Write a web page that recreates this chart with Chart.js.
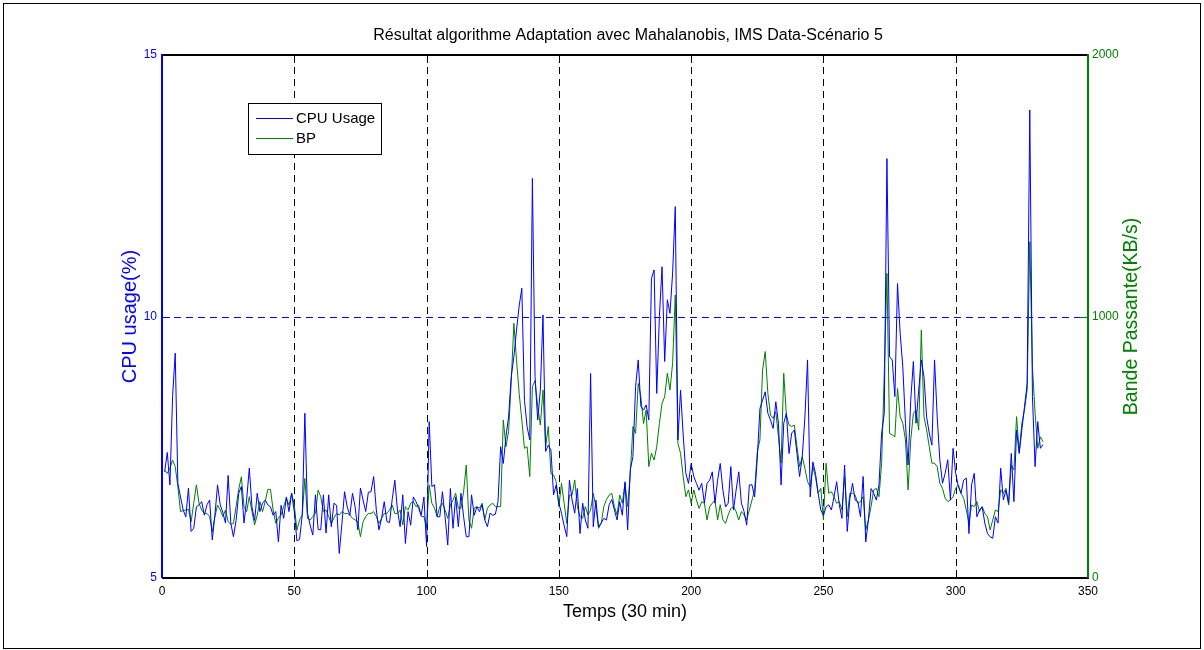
<!DOCTYPE html>
<html><head><meta charset="utf-8">
<script src="https://cdn.jsdelivr.net/npm/chart.js@4.4.0/dist/chart.umd.min.js"></script>
<style>html,body{margin:0;padding:0;background:#fff;}canvas{display:block;}</style>
</head><body>
<canvas id="c" width="1204" height="650"></canvas>
<script>
const chartTitle = "Résultat algorithme Adaptation avec Mahalanobis, IMS Data-Scénario 5";
const xTitle = "Temps (30 min)";
const yLeftTitle = "CPU usage(%)";
const yRightTitle = "Bande Passante(KB/s)";
const seriesNames = ["CPU Usage", "BP"];
const xTicks = [0, 50, 100, 150, 200, 250, 300, 350];
const cpuTicks = [5, 10, 15];
const bpTicks = [0, 1000, 2000];

const cpuUsage = [
7.03,7.40,6.78,8.47,9.30,6.81,6.55,6.30,6.17,6.72,
5.89,5.95,6.36,6.40,6.46,6.20,6.40,6.49,5.73,6.20,
6.78,6.40,6.25,6.05,6.96,6.05,5.79,6.10,6.62,6.75,
6.05,6.50,7.10,6.36,6.10,6.62,6.27,6.43,6.49,6.40,
6.36,6.20,6.27,5.69,6.39,6.14,6.55,6.27,6.62,6.27,
5.71,5.74,6.20,8.15,6.24,6.01,5.82,6.59,5.93,5.92,
6.59,5.86,6.59,5.98,6.43,6.39,5.47,6.04,6.65,6.36,
6.20,6.62,6.36,5.92,6.72,6.49,6.27,6.64,6.65,6.94,
6.30,5.92,6.14,6.46,6.08,6.06,6.50,6.87,6.30,5.98,
6.59,5.66,6.27,6.01,6.55,6.46,6.33,6.20,6.55,5.60,
7.99,6.75,6.78,6.17,6.17,6.65,6.17,5.63,6.71,5.95,
6.55,5.98,6.62,6.17,5.79,5.79,6.59,6.20,6.36,6.27,
6.40,6.11,5.98,6.24,6.20,6.22,6.46,7.51,7.19,7.70,
8.08,8.85,9.23,9.74,10.20,10.54,8.40,7.89,7.64,12.64,
8.85,8.02,8.59,10.03,7.42,7.54,7.45,6.59,6.78,6.43,
6.24,6.00,5.79,6.87,6.49,6.24,6.71,5.85,6.43,6.11,
5.95,8.91,5.98,6.49,5.98,6.05,6.14,6.11,6.40,6.50,
6.30,6.11,6.46,6.20,6.84,5.92,7.07,7.32,8.66,9.17,
8.28,8.21,8.31,8.02,10.73,10.89,8.53,10.00,10.95,9.14,
10.32,10.06,10.83,12.10,7.64,8.59,7.73,7.00,6.81,7.19,
6.94,6.81,6.68,6.81,6.43,6.81,6.87,7.03,6.43,6.87,
7.19,6.68,6.36,6.43,7.13,6.30,6.68,7.03,6.43,6.27,
6.01,6.78,6.78,6.55,7.29,8.24,8.40,8.56,8.15,8.02,
7.86,8.37,7.96,6.78,7.96,8.15,7.38,7.77,7.83,7.38,
6.94,7.32,8.08,9.17,6.55,7.22,7.00,6.62,6.30,6.20,
6.36,6.40,6.30,6.55,6.84,6.40,6.14,7.16,5.89,6.52,
6.81,6.49,6.46,6.17,6.94,5.69,6.11,6.71,6.62,6.49,
6.78,7.77,8.15,13.02,9.23,9.17,8.47,10.63,9.68,9.04,
7.96,7.16,8.40,9.14,7.96,8.59,9.17,8.85,8.08,7.77,
7.54,9.17,8.08,7.26,6.81,7.00,7.26,6.49,7.48,7.00,
6.75,6.62,6.87,6.91,5.85,6.78,7.00,6.17,6.30,6.36,
6.05,5.85,5.79,5.76,6.17,6.05,7.10,6.49,6.68,6.43,
7.38,6.46,7.83,7.38,7.83,8.28,8.72,13.95,8.47,7.13,
7.99,7.48,7.55];

const bandePassante = [
413,400,420,451,426,349,254,258,260,263,
215,286,356,286,260,247,247,235,177,235,
279,260,235,260,215,205,209,273,340,387,
273,254,311,254,203,241,292,254,292,339,
339,260,209,230,241,273,305,279,324,279,
183,222,241,381,228,222,235,247,336,311,
254,260,235,209,230,247,241,254,247,247,
241,228,222,215,158,215,235,247,247,254,
235,209,228,247,247,260,279,247,247,260,
203,273,260,286,292,273,279,235,235,190,
356,286,267,235,273,286,260,228,279,298,
324,267,267,330,432,222,190,267,273,267,
286,222,267,279,286,273,273,273,604,502,
560,750,974,834,706,604,496,502,388,732,
755,655,585,719,502,579,400,394,368,273,
362,286,209,317,317,375,273,235,228,273,
241,260,324,273,190,209,273,300,317,324,
273,241,317,286,362,273,400,579,553,744,
693,591,642,426,477,451,502,591,668,693,
783,719,821,1082,515,477,387,311,337,286,
337,298,266,292,286,222,273,286,298,222,
280,222,209,241,266,273,254,222,254,241,
222,260,298,337,483,528,795,866,706,623,
611,636,540,439,783,623,585,579,585,502,
426,464,419,368,349,426,387,324,343,222,
439,324,330,311,286,292,260,387,235,324,
324,317,286,292,311,184,222,273,337,343,
311,439,783,1165,553,547,540,725,617,592,
528,337,528,630,642,566,948,617,566,502,
439,439,426,362,343,305,292,298,311,343,
356,324,305,260,209,279,273,292,254,273,
247,235,184,222,260,254,337,324,343,279,
432,413,617,483,592,642,719,1286,808,630,
496,540,521];

const temps = cpuUsage.map((_, i) => i + 1);

const BLUE = '#0000ff', GREEN = '#008000', FONT = '"Liberation Sans", Arial, sans-serif';

const matlabFrame = {
  id: 'matlabFrame',
  beforeDraw(chart) {
    const ctx = chart.ctx;
    ctx.save();
    ctx.fillStyle = '#fff';
    ctx.fillRect(0, 0, chart.width, chart.height);
    ctx.strokeStyle = '#000';
    ctx.lineWidth = 1;
    ctx.strokeRect(3.5, 3.5, chart.width - 7, chart.height - 5);
    ctx.restore();
  },
  beforeDatasetsDraw(chart) {
    const {ctx, chartArea: a, scales: {x, y}} = chart;
    ctx.save();
    ctx.lineWidth = 1;
    ctx.setLineDash([7, 5]);
    ctx.strokeStyle = '#000';
    xTicks.forEach(v => {
      if (v <= x.min || v >= x.max) return;
      const px = Math.round(x.getPixelForValue(v)) + 0.5;
      ctx.beginPath(); ctx.moveTo(px, a.top); ctx.lineTo(px, a.bottom); ctx.stroke();
    });
    ctx.strokeStyle = BLUE;
    cpuTicks.forEach(v => {
      if (v <= y.min || v >= y.max) return;
      const py = Math.round(y.getPixelForValue(v)) + 0.5;
      ctx.beginPath(); ctx.moveTo(a.left, py); ctx.lineTo(a.right, py); ctx.stroke();
    });
    ctx.restore();
  },
  afterDatasetsDraw(chart) {
    const {ctx, chartArea: a, scales: {x, y, y1}} = chart;
    ctx.save();
    ctx.setLineDash([]);
    ctx.lineWidth = 2;
    const L = Math.round(a.left), R = Math.round(a.right), T = Math.round(a.top), B = Math.round(a.bottom);
    ctx.strokeStyle = '#000';
    ctx.beginPath(); ctx.moveTo(L, T); ctx.lineTo(R, T); ctx.stroke();
    ctx.beginPath(); ctx.moveTo(L, B); ctx.lineTo(R + 1, B); ctx.stroke();
    ctx.strokeStyle = BLUE;
    ctx.beginPath(); ctx.moveTo(L, T - 1); ctx.lineTo(L, B); ctx.stroke();
    ctx.strokeStyle = GREEN;
    ctx.beginPath(); ctx.moveTo(R, T - 1); ctx.lineTo(R, B); ctx.stroke();
    ctx.lineWidth = 1;
    ctx.strokeStyle = '#000';
    const tl = 8;
    xTicks.forEach(v => {
      if (v <= x.min || v >= x.max) return;
      const px = Math.round(x.getPixelForValue(v)) + 0.5;
      ctx.beginPath(); ctx.moveTo(px, B); ctx.lineTo(px, B - tl); ctx.stroke();
      ctx.beginPath(); ctx.moveTo(px, T); ctx.lineTo(px, T + tl); ctx.stroke();
    });
    ctx.strokeStyle = BLUE;
    cpuTicks.forEach(v => {
      if (v <= y.min || v >= y.max) return;
      const py = Math.round(y.getPixelForValue(v)) + 0.5;
      ctx.beginPath(); ctx.moveTo(L, py); ctx.lineTo(L + tl, py); ctx.stroke();
    });
    ctx.strokeStyle = GREEN;
    bpTicks.forEach(v => {
      if (v <= y1.min || v >= y1.max) return;
      const py = Math.round(y1.getPixelForValue(v)) + 0.5;
      ctx.beginPath(); ctx.moveTo(R, py); ctx.lineTo(R - tl, py); ctx.stroke();
    });
    const lx = L + 86, ly = T + 48, lw = 133, lh = 51;
    ctx.fillStyle = '#fff';
    ctx.fillRect(lx, ly, lw, lh);
    ctx.strokeStyle = '#000';
    ctx.lineWidth = 1;
    ctx.strokeRect(lx + 0.5, ly + 0.5, lw, lh);
    ctx.font = '15px ' + FONT;
    ctx.textBaseline = 'middle';
    ctx.textAlign = 'left';
    const colors = [BLUE, GREEN];
    seriesNames.forEach((n, i) => {
      const ry = ly + 15 + i * 20 + 0.5;
      ctx.strokeStyle = colors[i];
      ctx.beginPath(); ctx.moveTo(lx + 8, ry); ctx.lineTo(lx + 45, ry); ctx.stroke();
      ctx.fillStyle = '#000';
      ctx.fillText(n, lx + 48, ry);
    });
    ctx.restore();
  },
  afterDraw(chart) {
    const {ctx, chartArea: a} = chart;
    const midX = (a.left + a.right) / 2, midY = (a.top + a.bottom) / 2;
    ctx.save();
    ctx.textAlign = 'center';
    ctx.textBaseline = 'middle';
    ctx.fillStyle = '#000';
    ctx.font = '16px ' + FONT;
    ctx.fillText(chartTitle, midX + 3, 36);
    ctx.font = '18px ' + FONT;
    ctx.fillText(xTitle, midX, 612);
    ctx.save();
    ctx.translate(130, midY);
    ctx.rotate(-Math.PI / 2);
    ctx.fillStyle = BLUE;
    ctx.font = '20px ' + FONT;
    ctx.fillText(yLeftTitle, 0, 0);
    ctx.restore();
    ctx.save();
    ctx.translate(1132, midY);
    ctx.rotate(-Math.PI / 2);
    ctx.fillStyle = GREEN;
    ctx.font = '19.5px ' + FONT;
    ctx.fillText(yRightTitle, 0, 0);
    ctx.restore();
    ctx.restore();
  }
};

new Chart(document.getElementById('c'), {
  type: 'line',
  data: {
    datasets: [
      { label: seriesNames[0], data: temps.map((t, i) => ({x: t, y: cpuUsage[i]})), yAxisID: 'y',
        borderColor: BLUE, borderWidth: 1, pointRadius: 0, tension: 0, fill: false },
      { label: seriesNames[1], data: temps.map((t, i) => ({x: t, y: bandePassante[i]})), yAxisID: 'y1',
        borderColor: GREEN, borderWidth: 1, pointRadius: 0, tension: 0, fill: false }
    ]
  },
  options: {
    responsive: false,
    animation: false,
    devicePixelRatio: 1,
    layout: { padding: { top: 55, left: 0, right: 0, bottom: 0 } },
    plugins: { legend: { display: false }, title: { display: false }, tooltip: { enabled: false } },
    scales: {
      x: {
        type: 'linear', min: 0, max: 350,
        afterBuildTicks: s => { s.ticks = xTicks.map(v => ({value: v})); },
        afterFit: s => { s.height = 72; },
        grid: { display: false, drawTicks: false },
        border: { display: false },
        ticks: { color: '#000', font: { family: FONT, size: 12 }, padding: 6, maxRotation: 0,
                 callback: v => String(v) }
      },
      y: {
        type: 'linear', position: 'left', min: 5, max: 15,
        afterBuildTicks: s => { s.ticks = cpuTicks.map(v => ({value: v})); },
        afterFit: s => { s.width = 162; },
        grid: { display: false, drawTicks: false },
        border: { display: false },
        ticks: { color: BLUE, font: { family: FONT, size: 12 }, padding: 5, callback: v => String(v) }
      },
      y1: {
        type: 'linear', position: 'right', min: 0, max: 2000,
        afterBuildTicks: s => { s.ticks = bpTicks.map(v => ({value: v})); },
        afterFit: s => { s.width = 116; },
        grid: { display: false, drawTicks: false },
        border: { display: false },
        ticks: { color: GREEN, font: { family: FONT, size: 12 }, padding: 4, callback: v => String(v) }
      }
    }
  },
  plugins: [matlabFrame]
});
</script>
</body></html>
